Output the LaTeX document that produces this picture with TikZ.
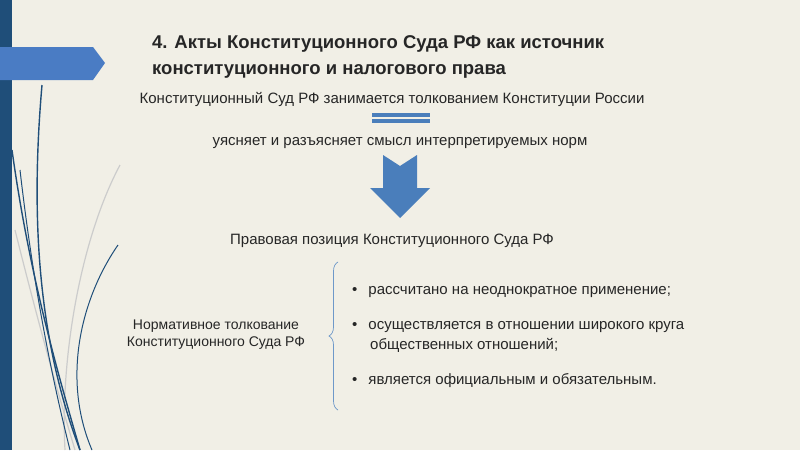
\documentclass[tikz,border=0pt]{standalone}
\usepackage{fontspec}
\setmainfont{Liberation Sans}
\usetikzlibrary{decorations.pathreplacing}
\definecolor{bg}{HTML}{F1EFE6}
\definecolor{dblue}{HTML}{1F4E79}
\definecolor{mblue}{HTML}{4A7CC4}
\definecolor{ablue}{HTML}{4A7EBB}
\tikzset{txt/.style={font=\fontsize{15}{17}\selectfont, text=black!85, inner sep=0pt},
curve/.style={dblue, line width=1.4pt},
gcurve/.style={gray!40, line width=1.2pt}}
\begin{document}
\begin{tikzpicture}[x=1pt,y=-1pt]
\fill[bg] (0,0) rectangle (800,450);
\useasboundingbox (0,0) rectangle (800,450);
\fill[dblue] (0,0) rectangle (12,450);
% decorative curves
\draw[gcurve] (15,230) .. controls (40,330) and (60,400) .. (75,450);
\draw[gcurve] (120,165) .. controls (80,240) and (60,360) .. (65,450);
\draw[curve] (42,85) .. controls (32,200) and (34,330) .. (80,450);
\draw[curve] (12,150) .. controls (30,280) and (60,380) .. (80,450);
\draw[curve,line width=1pt] (20,170) .. controls (35,300) and (55,390) .. (70,450);
\draw[curve,line width=1pt] (118,245) .. controls (80,300) and (62,380) .. (92,450);
% header arrow
\fill[mblue] (0,47) -- (93,47) -- (105,63) -- (93,80) -- (0,80) -- cycle;
% title
\node[anchor=west, font=\bfseries\fontsize{18.5}{22}\selectfont, text=black!85, inner sep=0pt] (title) at (152,44) {4. Акты Конституционного Суда РФ как источник};
\node[anchor=west, font=\bfseries\fontsize{18.5}{22}\selectfont, text=black!85, inner sep=0pt] (title2) at (152,71) {конституционного и налогового права};
\node[txt] (t1) at (392,99) {Конституционный Суд РФ занимается толкованием Конституции России};
% equals
\fill[ablue] (372,113) rectangle (430,117);
\fill[ablue] (372,119) rectangle (430,123);
\node[txt] (t2) at (400,143) {уясняет и разъясняет смысл интерпретируемых норм};
% big arrow
\fill[ablue] (383,155) -- (400,166) -- (417,155) -- (417,188) -- (430,188) -- (400,218) -- (370,188) -- (383,188) -- cycle;
\node[txt] (t3) at (392,241) {Правовая позиция Конституционного Суда РФ};
\node[txt, align=center, font=\fontsize{14}{16}\selectfont] (left) at (216,335) {Нормативное толкование\\[1pt]Конституционного Суда РФ};
\draw[ablue!80, line width=0.7pt, decorate, decoration={brace, amplitude=9pt, mirror}] (338,262) -- (338,410);
\node[txt, anchor=west] (b1) at (352,292) {•\hspace{11pt}рассчитано на неоднократное применение;};
\node[txt, anchor=west] (b2) at (352,327) {•\hspace{11pt}осуществляется в отношении широкого круга};
\node[txt, anchor=west] (b2b) at (370,345) {общественных отношений;};
\node[txt, anchor=west] (b3) at (352,381) {•\hspace{11pt}является официальным и обязательным.};
\end{tikzpicture}
\end{document}
